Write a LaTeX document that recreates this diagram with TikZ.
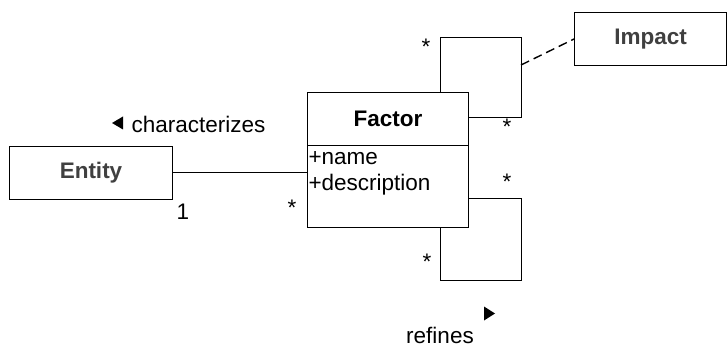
\documentclass[tikz,border=0pt]{standalone}
\usepackage{fontspec}
\setmainfont{Liberation Sans}
\begin{document}
\begin{tikzpicture}[x=1pt,y=-1pt,
  line width=1pt,
  txt/.style={font=\fontsize{22.5}{27}\selectfont, inner sep=0pt},
  cls/.style={draw, rectangle, inner sep=0pt, anchor=north west},
  mult/.style={font=\fontsize{22.5}{27}\selectfont, inner sep=0pt},
  tri/.style={fill=black, draw=none}]
\useasboundingbox (0,0) rectangle (727,347);
\definecolor{dgray}{HTML}{404040}

% classes
\node[cls, minimum width=163pt, minimum height=53pt] (entity) at (9,146) {};
\node[txt, font=\fontsize{22.5}{27}\selectfont\bfseries, text=dgray] (entityname) at (entity.center) {Entity};

\node[cls, minimum width=152pt, minimum height=53pt] (impact) at (574,12) {};
\node[txt, font=\fontsize{22.5}{27}\selectfont\bfseries, text=dgray] (impactname) at (impact.center) {Impact};

\node[cls, minimum width=161pt, minimum height=135pt] (factor) at (307,92) {};
\node[txt, font=\fontsize{22.5}{27}\selectfont\bfseries] (factorname) at (388,119) {Factor};
\coordinate (sepL) at (307,146);
\coordinate (sepR) at (468,146);
\draw (sepL) -- (sepR);
\node[txt, anchor=west] (attr1) at (308,158) {+name};
\node[txt, anchor=west] (attr2) at (308,185) {+description};

% characterizes association
\draw (entity.east) -- (entity.east -| factor.west);
\node[mult] (m1) at (183,212) {1};
\node[mult] (m2) at (292,208) {*};
\node[txt, anchor=west] (charlbl) at (131,124) {characterizes};
\coordinate (ct) at (112,123);
\fill[tri] (ct) -- ++(11,-6.5) -- ++(0,13) -- cycle;

% upper self loop
\coordinate (u1) at (440,92);
\coordinate (u2) at (440,38);
\coordinate (u3) at (521,38);
\coordinate (u4) at (521,118);
\coordinate (u5) at (468,118);
\draw (u1) -- (u2) -- (u3) -- (u4) -- (u5);
\node[mult] (m3) at (426,47) {*};
\node[mult] (m4) at (507,127) {*};
\coordinate (ud) at (521,65);
\draw[line width=1.4pt, dash pattern=on 9pt off 5pt] (ud) -- (impact.west);

% lower self loop
\coordinate (l1) at (468,199);
\coordinate (l2) at (521,199);
\coordinate (l3) at (521,280);
\coordinate (l4) at (440,280);
\coordinate (l5) at (440,227);
\draw (l1) -- (l2) -- (l3) -- (l4) -- (l5);
\node[mult] (m5) at (507,182) {*};
\node[mult] (m6) at (427,262) {*};
\node[txt] (reflbl) at (440,335) {refines};
\coordinate (rt) at (495,313.5);
\fill[tri] (rt) -- ++(-11,-7) -- ++(0,14) -- cycle;
\end{tikzpicture}
\end{document}
